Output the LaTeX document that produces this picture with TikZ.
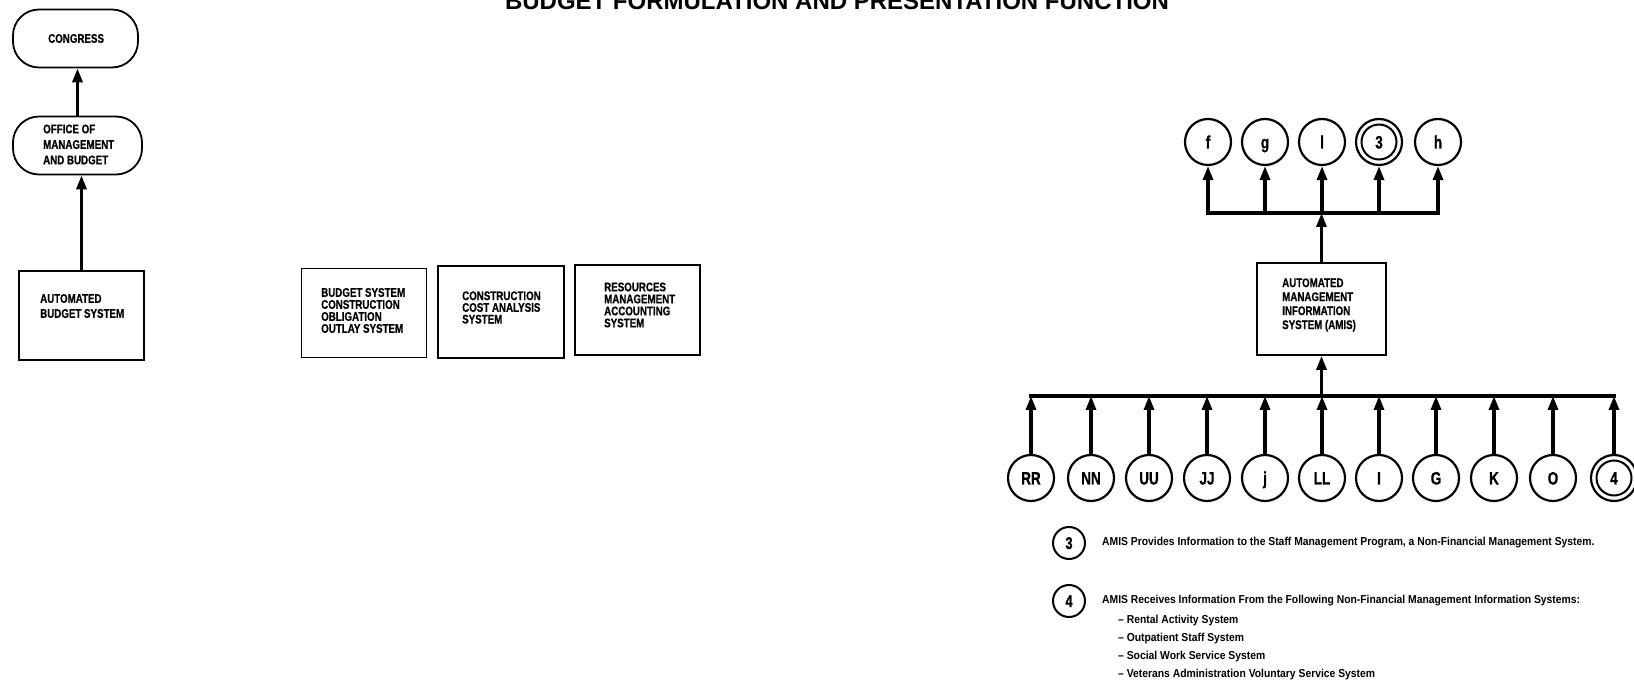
\documentclass[tikz,border=0pt]{standalone}
\usepackage{fontspec}
\setmainfont{Liberation Sans}
\newfontfamily\titlefont{Liberation Sans}
\newfontfamily\boxfont[FakeStretch=0.78,FakeBold=0.6]{Liberation Sans}
\newfontfamily\circfont[FakeStretch=0.75,FakeBold=0.8]{Liberation Sans}
\newfontfamily\legfont[FakeStretch=0.9]{Liberation Sans}
\usetikzlibrary{arrows.meta}
\begin{document}
\begin{tikzpicture}[x=1pt,y=-1pt,
  box/.style={draw, line width=1.8pt, inner sep=0pt},
  pill/.style={box, rounded corners=26pt},
  boxtxt/.style={inner sep=0pt, align=left, anchor=west, font=\boxfont\bfseries\fontsize{12.5}{#1}\selectfont},
  boxtxt/.default=13,
  circ/.style={draw, circle, line width=2.2pt, minimum size=46pt, inner sep=0pt, text height=13pt, text depth=0pt, font=\circfont\bfseries\fontsize{18}{18}\selectfont},
  legcirc/.style={draw, circle, line width=2pt, minimum size=32pt, inner sep=0pt, text height=12pt, text depth=0pt, font=\circfont\bfseries\fontsize{17}{17}\selectfont},
  legtxt/.style={inner sep=0pt, anchor=west, font=\legfont\bfseries\fontsize{11.5}{13}\selectfont},
  arr/.style={line width=3.2pt, -{Triangle[length=14pt,width=10pt]}},
  busline/.style={line width=3.2pt, line cap=rect}
]
\useasboundingbox (0,0) rectangle (1634,684);

% title
\node[anchor=base, inner sep=0pt, font=\titlefont\bfseries\fontsize{24}{24}\selectfont] (title) at (837,10) {BUDGET FORMULATION AND PRESENTATION FUNCTION};

% left column
\node[pill, minimum width=125pt, minimum height=58pt] (congress) at (75.5,38.5) {};
\node[boxtxt] (congresst) at (48,38.5) {CONGRESS};
\node[pill, minimum width=129pt, minimum height=58pt] (omb) at (77.5,145.5) {};
\node[boxtxt=15.5] (ombt) at (43,144.5) {OFFICE OF\\MANAGEMENT\\AND BUDGET};
\node[box, minimum width=125pt, minimum height=89pt] (abs) at (81.5,315.5) {};
\node[boxtxt=15] (abst) at (40,306) {AUTOMATED\\BUDGET SYSTEM};
\draw[arr] (omb.north) -- (omb.north |- congress.south);
\draw[arr] (abs.north) -- (abs.north |- omb.south);

% middle boxes
\node[box, minimum width=125pt, minimum height=89pt] (bsc) at (364,313) {};
\node[boxtxt=12] (bsct) at (321,310.5) {BUDGET SYSTEM\\CONSTRUCTION\\OBLIGATION\\OUTLAY SYSTEM};
\node[box, minimum width=126pt, minimum height=92pt] (cca) at (501,312) {};
\node[boxtxt=11.7] (ccat) at (462,307.5) {CONSTRUCTION\\COST ANALYSIS\\SYSTEM};
\node[box, minimum width=125pt, minimum height=90pt] (rma) at (637.5,310) {};
\node[boxtxt=12] (rmat) at (604,305) {RESOURCES\\MANAGEMENT\\ACCOUNTING\\SYSTEM};

% AMIS
\node[box, minimum width=129pt, minimum height=92pt] (amis) at (1321.5,309) {};
\node[boxtxt=14] (amist) at (1282,305) {AUTOMATED\\MANAGEMENT\\INFORMATION\\SYSTEM (AMIS)};

% top circles
\node[circ] (cf) at (1208,142) {f};
\node[circ] (cg) at (1265,142) {g};
\node[circ] (cl) at (1322,142) {l};
\node[circ] (c3) at (1379,142) {3};
\node[circ] (ch) at (1438,142) {h};
\draw[line width=2pt] (c3.center) circle (17.5pt);

\coordinate (tbl) at (1208,213);
\coordinate (tbr) at (1438,213);
\coordinate (tbm) at (1321.5,213);
\draw[busline] (tbl) -- (tbr);
\draw[arr] (amis.north) -- (tbm);
\foreach \n in {cf,cg,cl,c3,ch}{
  \draw[arr] (\n.south |- tbl) -- (\n.south);
}

% bottom circles
\node[circ] (cRR) at (1031,478) {RR};
\node[circ] (cNN) at (1091,478) {NN};
\node[circ] (cUU) at (1149,478) {UU};
\node[circ] (cJJ) at (1207,478) {JJ};
\node[circ] (cj)  at (1265,478) {j};
\node[circ] (cLL) at (1322,478) {LL};
\node[circ] (cI)  at (1379,478) {I};
\node[circ] (cG)  at (1436,478) {G};
\node[circ] (cK)  at (1494,478) {K};
\node[circ] (cO)  at (1553,478) {O};
\node[circ] (c4)  at (1614,478) {4};
\draw[line width=2pt] (c4.center) circle (17.5pt);

\coordinate (bbl) at (1031,396);
\coordinate (bbr) at (1614,396);
\coordinate (bbm) at (1321.5,396);
\draw[busline] (bbl) -- (bbr);
\draw[arr] (bbm) -- (amis.south);
\foreach \n in {cRR,cNN,cUU,cJJ,cj,cLL,cI,cG,cK,cO,c4}{
  \draw[arr] (\n.north) -- (\n.north |- bbl);
}

% legend
\node[legcirc] (l3) at (1069,543) {3};
\node[legtxt] (l3t) at (1102,543) {AMIS Provides Information to the Staff Management Program, a Non-Financial Management System.};
\node[legcirc] (l4) at (1069,601) {4};
\node[legtxt] (l4t) at (1102,601) {AMIS Receives Information From the Following Non-Financial Management Information Systems:};
\node[legtxt] (l4a) at (1118,621) {– Rental Activity System};
\node[legtxt] (l4b) at (1118,639) {– Outpatient Staff System};
\node[legtxt] (l4c) at (1118,657) {– Social Work Service System};
\node[legtxt] (l4d) at (1118,675) {– Veterans Administration Voluntary Service System};
\end{tikzpicture}
\end{document}
